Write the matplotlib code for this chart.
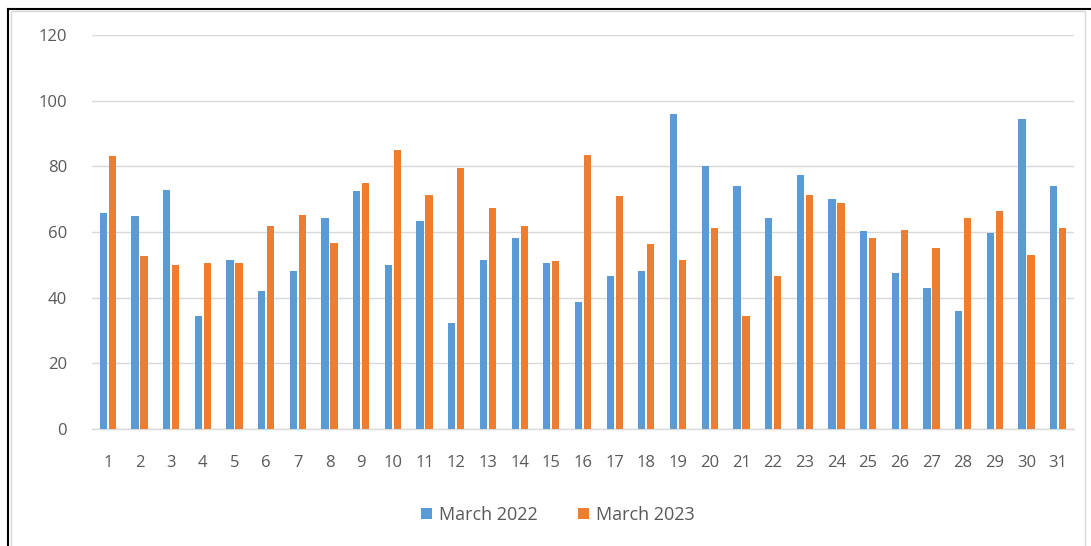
import matplotlib
matplotlib.use("Agg")
import matplotlib.pyplot as plt
import numpy as np
from matplotlib.lines import Line2D
from matplotlib.patches import Rectangle

days = [str(d) for d in range(1, 32)]
march_2022 = [65.8, 64.8, 72.9, 34.5, 51.6, 41.9, 48.0, 64.3, 72.4, 50.0,
              63.3, 32.2, 51.6, 58.2, 50.6, 38.6, 46.5, 48.0, 95.8, 80.1,
              74.0, 64.3, 77.5, 69.9, 60.2, 47.5, 42.9, 35.8, 59.7, 94.3, 74.0]
march_2023 = [83.1, 52.6, 50.0, 50.6, 50.6, 61.7, 65.3, 56.7, 75.0, 85.1,
              71.4, 79.6, 67.3, 61.7, 51.1, 83.6, 70.9, 56.2, 51.6, 61.2,
              34.3, 46.5, 71.4, 68.9, 58.2, 60.7, 55.1, 64.3, 66.3, 53.1, 61.2]
series_names = ["March 2022", "March 2023"]
y_ticks = [0, 20, 40, 60, 80, 100, 120]

W, H = 1091, 546
fig = plt.figure(figsize=(W / 100, H / 100), dpi=100)
fig.patch.set_facecolor("white")

font = "Open Sans"
txt = "#595959"
blue = "#5B9BD5"
orange = "#ED7D31"

ax = fig.add_axes([92 / W, 1 - 429 / H, (1074 - 92) / W, (429 - 35) / H])
x = np.arange(len(days))
bw = 0.23
off = 0.142
ax.bar(x - off, march_2022, width=bw, color=blue, label=series_names[0], zorder=3)
ax.bar(x + off, march_2023, width=bw, color=orange, label=series_names[1], zorder=3)

ax.set_xlim(-0.5, len(days) - 0.5)
ax.set_ylim(0, 120)
ax.set_yticks(y_ticks)
ax.set_yticklabels([str(t) for t in y_ticks], fontfamily=font, fontsize=12, color=txt)
ax.set_xticks(x)
ax.set_xticklabels(days, fontfamily=font, fontsize=12, color=txt)
ax.tick_params(axis="y", length=0, pad=18)
ax.tick_params(axis="x", length=0, pad=19)
ax.yaxis.grid(True, color="#D9D9D9", linewidth=1, zorder=0)
ax.set_axisbelow(True)
for s in ["top", "right", "left"]:
    ax.spines[s].set_visible(False)
ax.spines["bottom"].set_color("#D9D9D9")
ax.spines["bottom"].set_linewidth(1)

leg = fig.legend(loc="center", bbox_to_anchor=(558 / W, 1 - 515 / H), ncol=2,
                 frameon=False, prop={"family": font, "size": 13},
                 handlelength=0.6, handleheight=0.6, handletextpad=0.4,
                 columnspacing=2.2)
for t in leg.get_texts():
    t.set_color(txt)

# chart borders
fig.add_artist(Rectangle((11 / W, -0.01), (1085 - 11) / W, 1 - 11 / H + 0.01,
                         transform=fig.transFigure, fill=False,
                         edgecolor="#D9D9D9", linewidth=1))
fig.add_artist(Line2D([8 / W, 8 / W], [0, 1 - 9 / H], transform=fig.transFigure,
                      color="black", linewidth=1.5))
fig.add_artist(Line2D([8 / W, 1], [1 - 9 / H, 1 - 9 / H], transform=fig.transFigure,
                      color="black", linewidth=1.5))

fig.savefig("out.png", dpi=100)
